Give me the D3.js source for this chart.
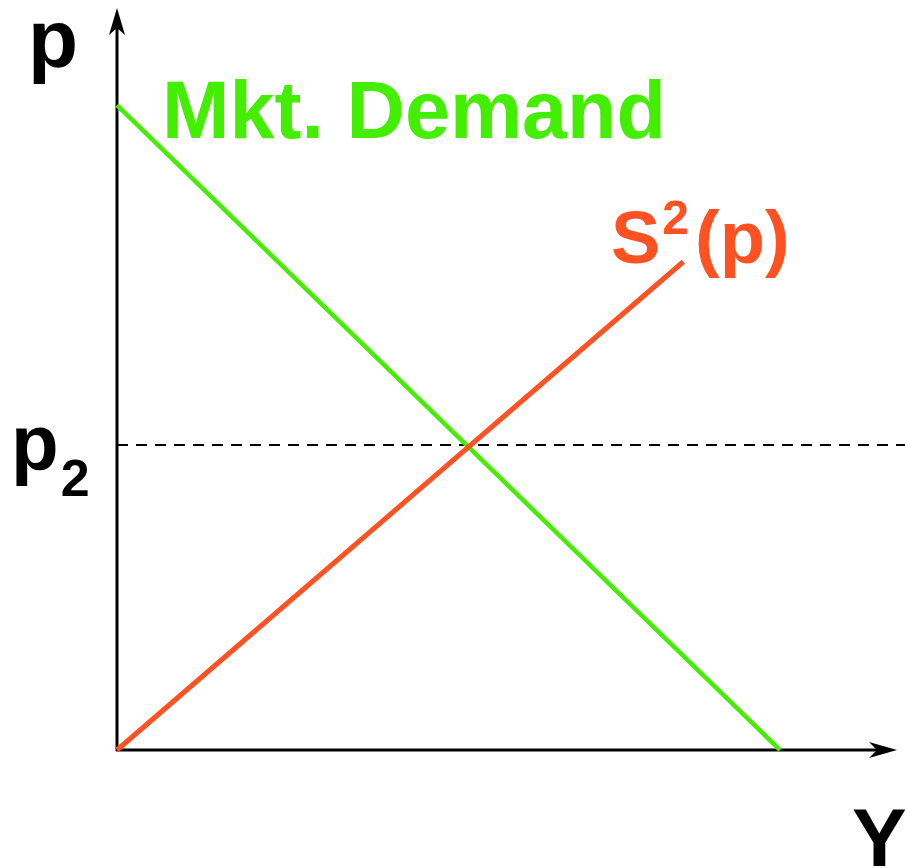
<!DOCTYPE html>
<html>
<head>
<meta charset="utf-8">
<script src="https://cdn.jsdelivr.net/npm/d3@7"></script>
<style>
  body { margin: 0; background: #fff; }
  text { font-family: "Liberation Sans", Arial, sans-serif; font-weight: bold; }
</style>
</head>
<body>
<svg id="chart"></svg>
<script>
// curves in (quantity, price) units
const demandPoints = [[0, 8.69], [8.5, 0]]
const supplyPoints = [[0, 0], [7.26, 6.58]]
const p2Value = 4.11

const labels = {
  demand: "Mkt. Demand",
  supply: "S",
  supplySup: "2",
  supplyTail: "(p)",
  yAxis: "p",
  xAxis: "Y",
  p2: "p",
  p2Sub: "2"
}

const width = 905, height = 868
const green = "#44ee00", orange = "#ff5122"

const svg = d3.select('#chart')
  .attr('width', width)
  .attr('height', height)

const xScale = d3.scaleLinear().domain([0, 10]).range([117, 897])
const yScale = d3.scaleLinear().domain([0, 10]).range([750, 8])

const line = d3.line()
  .x(d => xScale(d[0]))
  .y(d => yScale(d[1]))

// dashed p2 line
svg.append('line')
  .attr('x1', xScale(0))
  .attr('x2', width)
  .attr('y1', yScale(p2Value))
  .attr('y2', yScale(p2Value))
  .attr('stroke', '#000')
  .attr('stroke-width', 2)
  .attr('stroke-dasharray', '11,8')

// axes
svg.append('line')
  .attr('x1', xScale(0)).attr('x2', xScale(0))
  .attr('y1', yScale(0) + 1).attr('y2', yScale(10) + 20)
  .attr('stroke', '#000').attr('stroke-width', 3)

svg.append('line')
  .attr('x1', xScale(0) - 1).attr('x2', xScale(10) - 20)
  .attr('y1', yScale(0)).attr('y2', yScale(0))
  .attr('stroke', '#000').attr('stroke-width', 3)

// arrowheads
const ax = xScale(0), ay = yScale(10)
svg.append('path')
  .attr('d', `M${ax},${ay} L${ax + 8},${ay + 27} L${ax},${ay + 20} L${ax - 8},${ay + 27} Z`)
  .attr('fill', '#000')

const bx = xScale(10), by = yScale(0)
svg.append('path')
  .attr('d', `M${bx},${by} L${bx - 28},${by - 8} L${bx - 20},${by} L${bx - 28},${by + 8} Z`)
  .attr('fill', '#000')

// curves
svg.append('path')
  .datum(demandPoints)
  .attr('d', line)
  .attr('fill', 'none')
  .attr('stroke', green)
  .attr('stroke-width', 4.5)

svg.append('path')
  .datum(supplyPoints)
  .attr('d', line)
  .attr('fill', 'none')
  .attr('stroke', orange)
  .attr('stroke-width', 5)

// labels
svg.append('text')
  .attr('x', 28).attr('y', 67)
  .attr('font-size', 82)
  .attr('fill', '#000')
  .text(labels.yAxis)

svg.append('text')
  .attr('x', 852).attr('y', 866)
  .attr('font-size', 82)
  .attr('fill', '#000')
  .text(labels.xAxis)

const p2Text = svg.append('text')
  .attr('x', 11).attr('y', 470)
  .attr('font-size', 78)
  .attr('fill', '#000')
p2Text.append('tspan').text(labels.p2)
p2Text.append('tspan').attr('font-size', 52).attr('dx', 2).attr('dy', 26).text(labels.p2Sub)

svg.append('text')
  .attr('x', 162).attr('y', 138)
  .attr('font-size', 81)
  .attr('fill', green)
  .text(labels.demand)

const sText = svg.append('text')
  .attr('x', 611).attr('y', 263)
  .attr('font-size', 74)
  .attr('fill', orange)
sText.append('tspan').text(labels.supply)
sText.append('tspan').attr('font-size', 48).attr('dx', 2).attr('dy', -29).text(labels.supplySup)
sText.append('tspan').attr('dx', 6).attr('dy', 29).text(labels.supplyTail)
</script>
</body>
</html>
